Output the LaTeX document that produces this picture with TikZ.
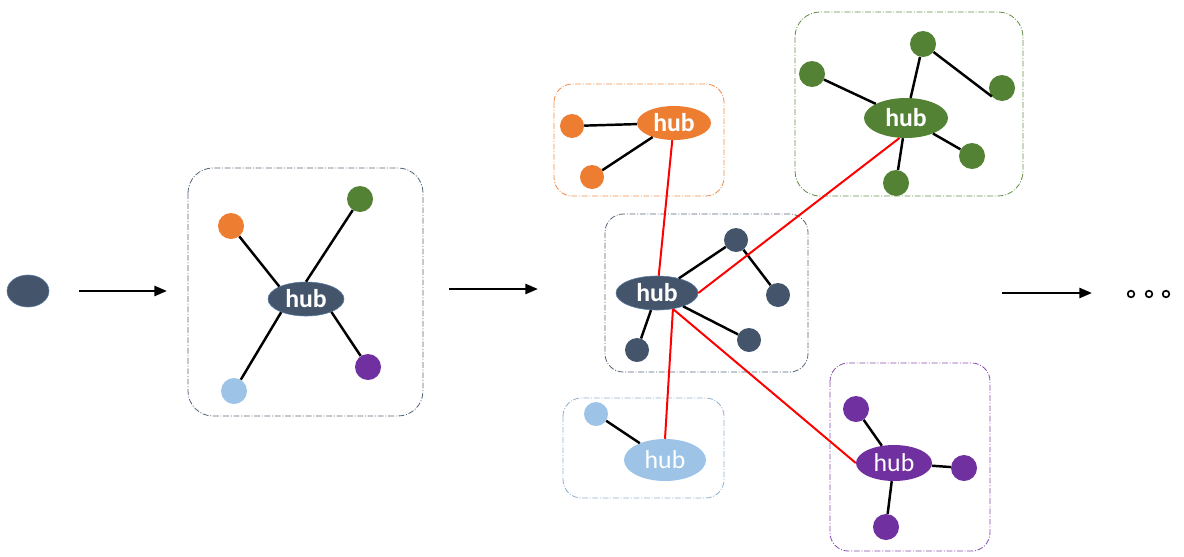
\documentclass[tikz,border=0pt]{standalone}
\usepackage{fontspec}
\setsansfont{Carlito}
\usetikzlibrary{shapes.geometric,arrows.meta}
\definecolor{cdark}{HTML}{44546A}
\definecolor{cdarkb}{HTML}{5B7BA3}
\definecolor{corange}{HTML}{ED7D31}
\definecolor{cgreen}{HTML}{548235}
\definecolor{cpurple}{HTML}{7030A0}
\definecolor{clight}{HTML}{9DC3E6}
\definecolor{cred}{HTML}{FF0000}
\tikzset{
  dot/.style={circle,inner sep=0pt,minimum size=0.78cm,fill=#1},
  sdot/.style={circle,inner sep=0pt,minimum size=0.72cm,fill=#1},
  hubnode/.style={ellipse,inner sep=0pt,fill=#1,text=white,font=\sffamily\fontsize{22}{22}\selectfont},
  boldhub/.style={hubnode=#1,font=\sffamily\bfseries\fontsize{22}{22}\selectfont},
  link/.style={line width=2.1pt,black},
  redlink/.style={line width=1.7pt,cred},
  cluster/.style={draw=#1,line width=0.7pt,dash pattern=on 5pt off 1.5pt on 0.8pt off 1.5pt,rounded corners=0.75cm},
  smallcluster/.style={draw=#1,line width=0.7pt,dash pattern=on 5pt off 1.5pt on 0.8pt off 1.5pt,rounded corners=0.55cm},
  flow/.style={line width=2.2pt,-{Triangle[length=0.38cm,width=0.3cm]}},
  ring/.style={circle,draw=black,line width=1.4pt,inner sep=0pt,minimum size=0.2cm}
}
\begin{document}
\begin{tikzpicture}[x=0.03cm,y=-0.03cm]
\useasboundingbox (0,0) rectangle (1184,556);

% clusters
\draw[cluster=cdark!90] (188,168) rectangle (423,416);
\draw[smallcluster=corange!90] (554,84) rectangle (724,196);
\draw[smallcluster=cdark!90] (605,214) rectangle (808,372);
\draw[smallcluster=clight!90!black] (563,398) rectangle (724,498);
\draw[cluster=cgreen!90] (795,12) rectangle (1023,196);
\draw[smallcluster=cpurple!85] (830,363) rectangle (990,551);

% start
\node[ellipse,inner sep=0pt,minimum width=1.26cm,minimum height=0.96cm,fill=cdark,draw=cdarkb,line width=0.5pt] (start) at (28,291) {};
\coordinate (a1s) at (79,291); \coordinate (a1e) at (167,291);
\draw[flow] (a1s) -- (a1e);

% stage 1
\node[boldhub=cdark,draw=cdarkb,line width=0.5pt,minimum width=2.28cm,minimum height=1.02cm] (h1) at (306,299) {hub};
\node[dot=corange] (o1) at (231,226) {};
\node[dot=cgreen] (g1a) at (360,199) {};
\node[dot=cpurple] (p1) at (368,367) {};
\node[dot=clight] (l1) at (234,391) {};
\draw[link] (h1.155) -- (o1);
\draw[link] (h1.90) -- (g1a);
\draw[link] (h1.-27) -- (p1);
\draw[link] (h1.-152) -- (l1);

\coordinate (a2s) at (449,289); \coordinate (a2e) at (538,289);
\draw[flow] (a2s) -- (a2e);

% stage 2: orange
\node[boldhub=corange,minimum width=2.22cm,minimum height=1.02cm] (oh) at (674,123) {hub};
\node[sdot=corange] (oa) at (572,126) {};
\node[sdot=corange] (ob) at (592,177) {};
\draw[link] (oh) -- (oa);
\draw[link] (oh) -- (ob);

% dark
\node[boldhub=cdark,draw=cdarkb,line width=0.5pt,minimum width=2.46cm,minimum height=1.02cm] (dh) at (657,293) {hub};
\node[sdot=cdark] (da) at (736,240) {};
\node[sdot=cdark] (db) at (778,295) {};
\node[sdot=cdark] (dc) at (749,340) {};
\node[sdot=cdark] (dd) at (637,350) {};
\draw[link] (dh) -- (da);
\draw[link] (da) -- (db);
\draw[link] (dh) -- (dc);
\draw[link] (dh) -- (dd);

% light blue
\node[hubnode=clight,minimum width=2.46cm,minimum height=1.26cm] (lh) at (665,460) {hub};
\node[sdot=clight] (la) at (596,414) {};
\draw[link] (lh) -- (la);

% green
\node[boldhub=cgreen,minimum width=2.52cm,minimum height=1.2cm] (gh) at (906,118) {hub};
\node[dot=cgreen] (ga) at (923,44) {};
\node[dot=cgreen] (gb) at (812,74) {};
\node[dot=cgreen] (gc) at (1002,88) {};
\node[dot=cgreen] (gd) at (972,156) {};
\node[dot=cgreen] (ge) at (896,183) {};
\draw[link] (gh) -- (ga);
\draw[link] (ga) -- (gc.220);
\draw[link] (gh) -- (gb);
\draw[link] (gh) -- (gd);
\draw[link] (gh) -- (ge);

% purple
\node[hubnode=cpurple,minimum width=2.28cm,minimum height=1.08cm] (ph) at (894,463) {hub};
\node[dot=cpurple] (pa) at (856,409) {};
\node[dot=cpurple] (pb) at (964,468) {};
\node[dot=cpurple] (pc) at (886,527) {};
\draw[link] (ph) -- (pa);
\draw[link] (ph) -- (pb);
\draw[link] (ph) -- (pc);

% red links
\draw[redlink] (oh) -- (dh);
\draw[redlink] (dh.east) -- (gh.-108);
\draw[redlink] (dh.-45) -- (lh.north);
\draw[redlink] (dh.-45) -- (ph.west);

% final
\coordinate (a3s) at (1002,293); \coordinate (a3e) at (1092,293);
\draw[flow] (a3s) -- (a3e);
\node[ring] (r1) at (1131,294) {};
\node[ring] (r2) at (1149,294) {};
\node[ring] (r3) at (1166,294) {};
\end{tikzpicture}
\end{document}
